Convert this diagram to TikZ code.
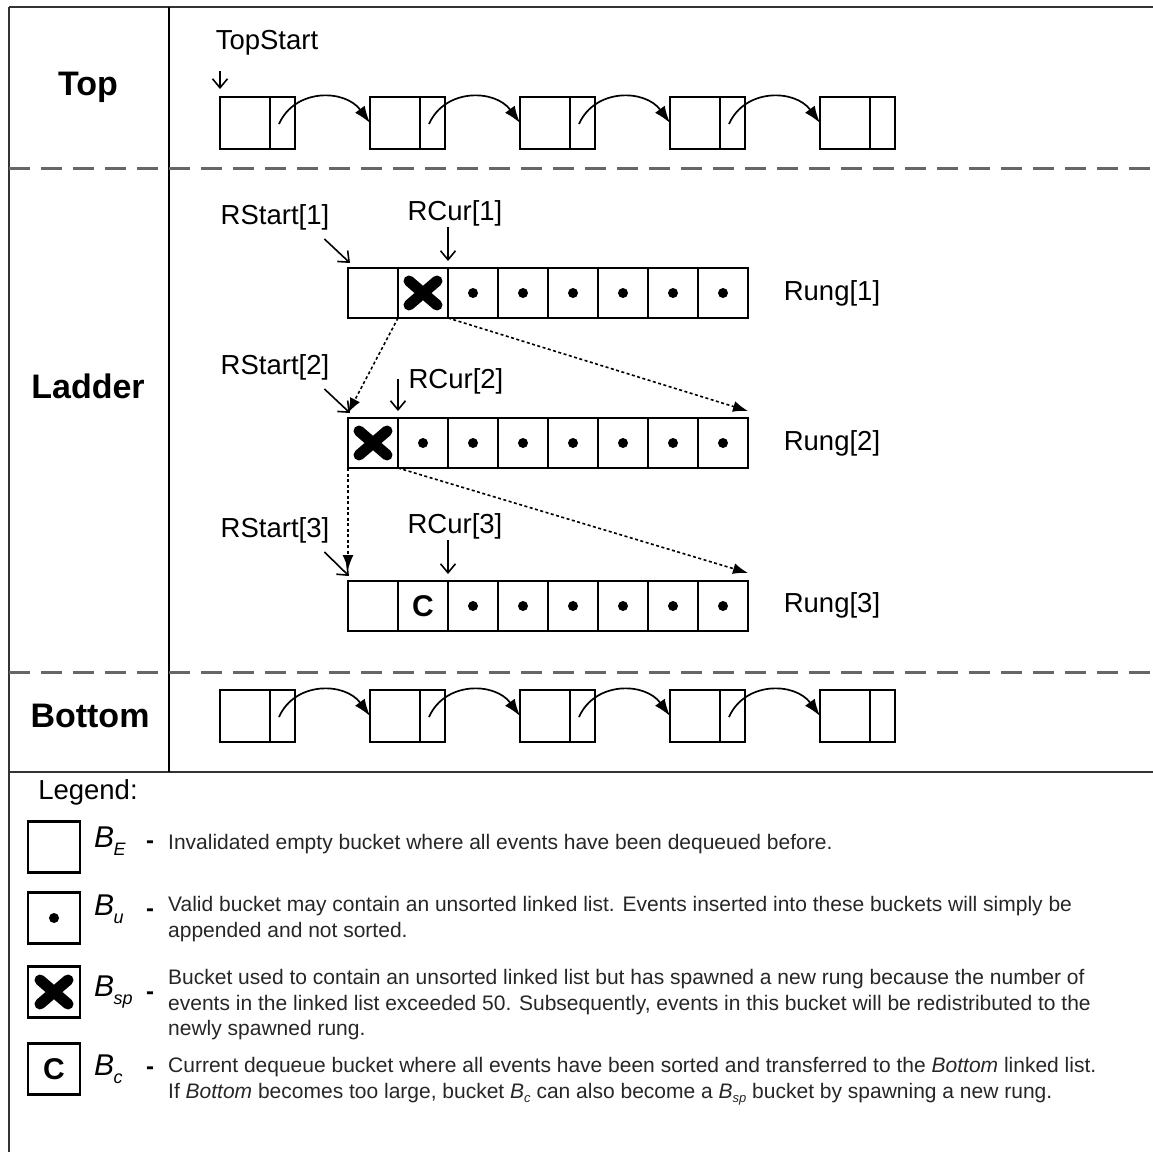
\documentclass[tikz,border=0pt]{standalone}
\usepackage{fontspec}
\setmainfont{Liberation Sans}
\usetikzlibrary{arrows.meta}
\newcommand{\Bsym}[1]{\textit{B}\kern-0.5pt\raisebox{-8pt}{\fontsize{18}{18}\selectfont\textit{#1}}}
\newcommand{\Bin}[1]{\textit{B}\raisebox{-4pt}{\fontsize{13}{13}\selectfont\textit{#1}}}
\tikzset{
  lbl/.style={font=\fontsize{27.5}{30}\selectfont, inner sep=0pt},
  ttl/.style={font=\fontsize{34}{38}\selectfont\bfseries, inner sep=0pt},
  cellbox/.style={draw, line width=1.8pt, minimum width=50pt, minimum height=50pt, inner sep=0pt, outer sep=0pt},
  llbox/.style={draw, line width=1.8pt, minimum width=75pt, minimum height=52pt, inner sep=0pt, outer sep=0pt},
  legbox/.style={draw, line width=2.4pt, minimum width=52pt, minimum height=51pt, inner sep=0pt, outer sep=0pt},
  link/.style={line width=1.7pt, -{Latex[length=17pt,width=12pt]}},
  ptr/.style={line width=1.6pt, -{Straight Barb[length=9pt,width=15pt]}},
  spawn/.style={line width=1.6pt, dash pattern=on 3pt off 2.5pt, -{Latex[length=15pt,width=11pt]}},
  sepline/.style={line width=3pt, draw=black!60, dash pattern=on 21pt off 11pt},
  frameline/.style={line width=2.5pt, draw=black!80},
  legtxt/.style={font=\fontsize{21}{26}\selectfont, anchor=base west, inner sep=0pt, text=black!85},
  bigc/.style={font=\fontsize{30}{32}\selectfont\bfseries, inner sep=0pt},
  dashsym/.style={font=\fontsize{24}{24}\selectfont\bfseries, inner sep=0pt},
  symlbl/.style={font=\fontsize{30}{32}\selectfont, anchor=west, inner sep=0pt},
  xmark/.pic={\draw[line width=11pt, line cap=round] (-14,-12) -- (14,12) (-14,12) -- (14,-12);}
}
\begin{document}
\begin{tikzpicture}[x=1pt, y=-1pt]
\useasboundingbox (0,0) rectangle (1153,1152);
% frame
\draw[frameline] (9,7) -- (1153,7);
\draw[frameline] (9,7) -- (9,1152);
\draw[frameline] (9,772) -- (1153,772);
\draw[line width=2pt] (169,7) -- (169,772);
\draw[sepline] (9,168) -- (1153,168);
\draw[sepline] (9,672) -- (1153,672);
% section titles
\node[ttl] (ttop) at (88,87) {Top};
\node[ttl] (tladder) at (88,386) {Ladder};
\node[ttl] (tbottom) at (90,716) {Bottom};
% top and bottom linked lists
\foreach \i in {1,...,5} {
  \node[llbox] (t\i) at ({257.5+150*(\i-1)},123) {};
  \draw[line width=1.8pt] ([xshift=-25pt]t\i.north east) -- ([xshift=-25pt]t\i.south east);
  \node[llbox] (b\i) at ({257.5+150*(\i-1)},716) {};
  \draw[line width=1.8pt] ([xshift=-25pt]b\i.north east) -- ([xshift=-25pt]b\i.south east);
}
\foreach \i/\k in {1/2,2/3,3/4,4/5} {
  \draw[link] ([xshift=-16pt,yshift=-1pt]t\i.east) .. controls +(16,-36) and +(-25,-34) .. (t\k.west);
  \draw[link] ([xshift=-16pt,yshift=-1pt]b\i.east) .. controls +(16,-36) and +(-25,-34) .. (b\k.west);
}
\node[lbl] (ts) at (267,43) {TopStart};
\draw[ptr] ([yshift=26pt]t1.north west) -- ([yshift=8pt]t1.north west);
% rungs
\foreach \j in {1,...,8} {
  \node[cellbox] (r1c\j) at ({373+50*(\j-1)},293) {};
  \node[cellbox] (r2c\j) at ({373+50*(\j-1)},443) {};
  \node[cellbox] (r3c\j) at ({373+50*(\j-1)},606) {};
}
\foreach \j in {3,...,8} {\fill (r1c\j) circle (5); \fill (r3c\j) circle (5);}
\foreach \j in {2,...,8} {\fill (r2c\j) circle (5);}
\pic at (r1c2) {xmark};
\pic at (r2c1) {xmark};
\node[bigc] (cc) at (r3c2) {C};
\node[lbl] (rung1) at (832,293) {Rung[1]};
\node[lbl] (rung2) at (832,443) {Rung[2]};
\node[lbl] (rung3) at (832,605) {Rung[3]};
\node[lbl] (rs1) at (275,217) {RStart[1]};
\node[lbl] (rs2) at (275,367) {RStart[2]};
\node[lbl] (rs3) at (275,530) {RStart[3]};
\node[lbl] (rc1) at (455,213) {RCur[1]};
\node[lbl] (rc2) at (456,381) {RCur[2]};
\node[lbl] (rc3) at (455,526) {RCur[3]};
\draw[ptr] ([xshift=-5pt,yshift=-9pt]rs1.south east) -- ([xshift=2pt,yshift=5pt]r1c1.north west);
\draw[ptr] ([xshift=-5pt,yshift=-9pt]rs2.south east) -- ([xshift=2pt,yshift=5pt]r2c1.north west);
\draw[ptr] ([xshift=-5pt,yshift=-9pt]rs3.south east) -- ([xshift=1pt,yshift=5pt]r3c1.north west);
\draw[ptr] ([yshift=41pt]r1c3.north west) -- ([yshift=7pt]r1c3.north west);
\draw[ptr] ([yshift=39pt]r2c2.north west) -- ([yshift=7pt]r2c2.north west);
\draw[ptr] ([yshift=41pt]r3c3.north west) -- ([yshift=7pt]r3c3.north west);
\draw[spawn] (r1c2.south west) -- ([yshift=5pt]r2c1.north west);
\draw[spawn] (r1c3.south west) -- ([yshift=7pt]r2c8.north east);
\draw[spawn] (r2c1.south west) -- ([yshift=11pt]r3c1.north west);
\draw[spawn] (r2c2.south west) -- ([yshift=8pt]r3c8.north east);
% legend
\node[lbl] (leg) at (88,792) {Legend:};
\node[legbox] (lb1) at (54,847) {};
\node[legbox] (lb2) at (54,918) {};
\node[legbox] (lb3) at (54,992) {};
\node[legbox] (lb4) at (54,1069) {};
\fill (lb2) circle (5);
\pic at (lb3) {xmark};
\node[bigc] (lcc) at (lb4) {C};
\node[symlbl] (s1) at (94,841) {\Bsym{E}};
\node[symlbl] (s2) at (94,909) {\Bsym{u}};
\node[symlbl] (s3) at (94,992) {\Bsym{sp}};
\node[symlbl] (s4) at (94,1069) {\Bsym{c}};
\node[dashsym] (d1) at (150,845) {-};
\node[dashsym] (d2) at (150,913) {-};
\node[dashsym] (d3) at (150,996) {-};
\node[dashsym] (d4) at (150,1071) {-};
\node[legtxt] (e1) at (168,849) {Invalidated empty bucket where all events have been dequeued before.};
\node[legtxt] (u1) at (168,911) {Valid bucket may contain an unsorted linked list. Events inserted into these buckets will simply be};
\node[legtxt] (u2) at (168,937) {appended and not sorted.};
\node[legtxt] (p1) at (168,984) {Bucket used to contain an unsorted linked list but has spawned a new rung because the number of};
\node[legtxt] (p2) at (168,1010) {events in the linked list exceeded 50. Subsequently, events in this bucket will be redistributed to the};
\node[legtxt] (p3) at (168,1035) {newly spawned rung.};
\node[legtxt] (c1) at (168,1072) {Current dequeue bucket where all events have been sorted and transferred to the \textit{Bottom} linked list.};
\node[legtxt] (c2) at (168,1098) {If \textit{Bottom} becomes too large, bucket \Bin{c} can also become a \Bin{sp} bucket by spawning a new rung.};
\end{tikzpicture}
\end{document}
